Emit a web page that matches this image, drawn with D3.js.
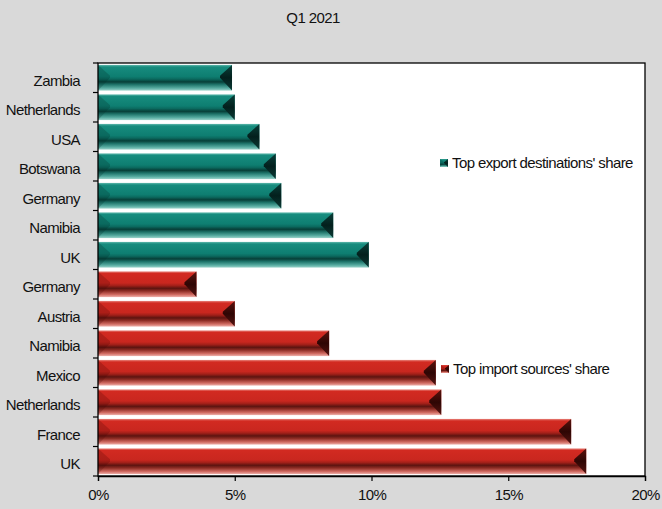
<!DOCTYPE html>
<html>
<head>
<meta charset="utf-8">
<script src="https://cdn.jsdelivr.net/npm/d3@7"></script>
<style>
html,body{margin:0;padding:0;background:#d9d9d9;}
svg text{font-family:"Liberation Sans",Arial,sans-serif;fill:#111;}
</style>
</head>
<body>
<svg id="chart" width="662" height="509"></svg>
<script>
const title = "Q1 2021";
const exportCountries = ["Zambia","Netherlands","USA","Botswana","Germany","Namibia","UK"];
const exportValues    = [4.9, 5.0, 5.9, 6.5, 6.7, 8.6, 9.9];
const importCountries = ["Germany","Austria","Namibia","Mexico","Netherlands","France","UK"];
const importValues    = [3.6, 5.0, 8.45, 12.35, 12.55, 17.3, 17.85];
const xTicks = [0, 5, 10, 15, 20];
const exportLabel = "Top export destinations' share";
const importLabel = "Top import sources' share";

const rows = exportCountries.map((c,i)=>({id:"e"+i,name:c,value:exportValues[i],type:"exp"}))
  .concat(importCountries.map((c,i)=>({id:"i"+i,name:c,value:importValues[i],type:"imp"})));

const svg = d3.select("#chart");
const m = {left:98, right:645, top:63, bottom:476};

const x = d3.scaleLinear().domain([0,20]).range([m.left,m.right]);
const y = d3.scaleBand().domain(rows.map(d=>d.id)).range([m.top,m.bottom]).paddingInner(0.13).paddingOuter(0.065);

const defs = svg.append("defs");
function grad(id, stops, vertical=true){
  const g = defs.append("linearGradient").attr("id",id)
    .attr("x1",0).attr("y1",0).attr("x2",vertical?0:1).attr("y2",vertical?1:0);
  stops.forEach(s=>g.append("stop").attr("offset",s[0]).attr("stop-color",s[1]));
}
grad("gExp",[[0,"#5fb8ac"],[0.08,"#178c7e"],[0.45,"#0e7e71"],[0.55,"#0b6a5f"],[0.66,"#073f38"],[0.76,"#1d7268"],[0.9,"#55aa9f"],[1,"#9ad3ca"]]);
grad("gImp",[[0,"#e8857d"],[0.08,"#d22a21"],[0.45,"#c9271f"],[0.55,"#a32019"],[0.66,"#5c1410"],[0.76,"#8c2b23"],[0.9,"#d06a61"],[1,"#eeb0aa"]]);
grad("rExp",[[0,"#0a3f39"],[0.5,"#03201d"],[1,"#0b3a35"]]);
grad("rImp",[[0,"#5a120d"],[0.5,"#2e0604"],[1,"#561310"]]);

// plot background
svg.append("rect").attr("x",m.left).attr("y",m.top).attr("width",m.right-m.left).attr("height",m.bottom-m.top)
  .attr("fill","#fff");

// title
svg.append("text").attr("x",313).attr("y",23).attr("text-anchor","middle").attr("font-size",15).attr("letter-spacing","-0.6").text(title);

function drawBar(g, x0, x1, yy, h, type){
  const body = type==="exp"?"url(#gExp)":"url(#gImp)";
  const right = type==="exp"?"url(#rExp)":"url(#rImp)";
  const leftFill = type==="exp"?"rgba(0,45,40,0.25)":"rgba(70,0,0,0.22)";
  const bx = Math.min(12,(x1-x0)/2);
  g.append("rect").attr("x",x0).attr("y",yy).attr("width",x1-x0).attr("height",h).attr("fill",body);
  g.append("path").attr("d",`M${x0},${yy}L${x0+bx},${yy+h*0.42}L${x0+bx},${yy+h*0.5}L${x0},${yy+h}Z`).attr("fill",leftFill);
  g.append("path").attr("d",`M${x1},${yy}L${x1-bx},${yy+h*0.42}L${x1-bx},${yy+h*0.5}L${x1},${yy+h}Z`).attr("fill",right);
}

const bars = svg.append("g");
rows.forEach(d=>{
  drawBar(bars, x(0), x(d.value), y(d.id), y.bandwidth(), d.type);
});

// border
svg.append("rect").attr("x",m.left).attr("y",m.top).attr("width",m.right-m.left).attr("height",m.bottom-m.top)
  .attr("fill","none").attr("stroke","#000").attr("stroke-width",1.3);

// y axis labels
const yAxis = d3.axisLeft(y).tickSize(0).tickPadding(18).tickFormat(id=>rows.find(r=>r.id===id).name);
const ya = svg.append("g").attr("transform",`translate(${m.left},3)`).call(yAxis);
ya.select(".domain").remove();
ya.selectAll("text").attr("font-size",15).attr("fill","#111").style("font-family","'Liberation Sans',Arial,sans-serif").attr("letter-spacing","-0.6");
// y boundary ticks
const bounds = rows.map(d=>y(d.id)-y.step()*y.paddingInner()/2).concat([m.bottom]);
bounds[0]=m.top;
svg.append("g").selectAll("line").data(bounds).join("line")
  .attr("x1",m.left-5).attr("x2",m.left).attr("y1",d=>d).attr("y2",d=>d)
  .attr("stroke","#000").attr("stroke-width",1.2);

// x axis
const xa = svg.append("g").attr("transform",`translate(0,${m.bottom})`)
  .call(d3.axisBottom(x).tickValues(xTicks).tickSize(5).tickPadding(8).tickFormat(d=>d+"%"));
xa.select(".domain").attr("stroke","#000").attr("stroke-width",1.3);
xa.selectAll("line").attr("stroke","#000").attr("stroke-width",1.2);
xa.selectAll("text").attr("font-size",15).attr("fill","#111").style("font-family","'Liberation Sans',Arial,sans-serif").attr("letter-spacing","-0.6");

// legends
function legend(lx, ly, type, label){
  const g = svg.append("g");
  drawBar(g, lx, lx+8, ly-4, 8, type);
  g.append("text").attr("x",lx+12).attr("y",ly+5).attr("font-size",15).attr("letter-spacing","-0.6").text(label);
}
legend(440, 163, "exp", exportLabel);
legend(441, 369, "imp", importLabel);
</script>
</body>
</html>
